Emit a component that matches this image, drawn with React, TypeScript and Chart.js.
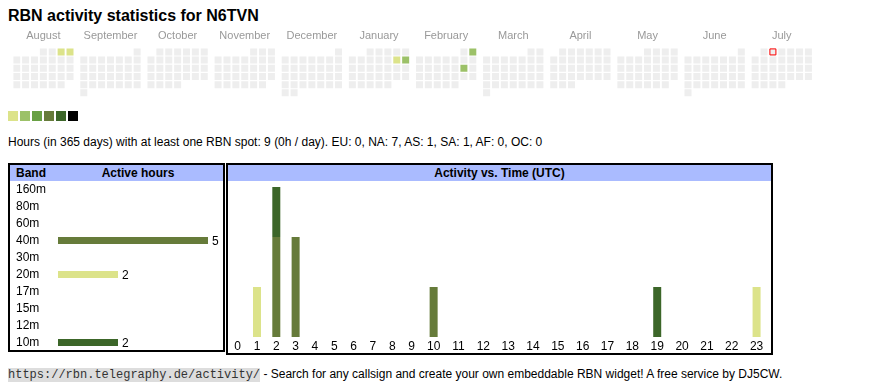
import React, { useEffect, useRef } from 'react';
import { Chart, registerables, CategoryScale } from 'chart.js';

Chart.register(...registerables);

const FONT = '"Liberation Sans", Arial, Helvetica, sans-serif';
const MONO = '"Liberation Mono", "Courier New", monospace';

// ---------- data ----------
const callsign = 'N6TVN';
const monthNames = ['August', 'September', 'October', 'November', 'December', 'January', 'February', 'March', 'April', 'May', 'June', 'July'];
const monthYears = [2024, 2024, 2024, 2024, 2024, 2025, 2025, 2025, 2025, 2025, 2025, 2025];
const monthNumbers = [8, 9, 10, 11, 12, 1, 2, 3, 4, 5, 6, 7];
const activeDays = ['2024-08-03', '2024-08-04', '2025-01-11', '2025-01-12', '2025-02-02', '2025-02-15'];
const activeDayHours = [1, 1, 1, 2, 2, 2];
const todayDate = '2025-07-02';
const levelColors = ['#dce38a', '#9cc168', '#68a044', '#667b3a', '#3c6629', '#000000'];
const emptyColor = '#eeeeee';

const bands = ['160m', '80m', '60m', '40m', '30m', '20m', '17m', '15m', '12m', '10m'];
const bandHours = [0, 0, 0, 5, 0, 2, 0, 0, 0, 2];
const bandColors = ['#000000', '#3c6629', '#68a044', '#667b3a', '#9cc168', '#dce38a', '#667b3a', '#68a044', '#9cc168', '#3c6629'];

const hourLabels = ['0', '1', '2', '3', '4', '5', '6', '7', '8', '9', '10', '11', '12', '13', '14', '15', '16', '17', '18', '19', '20', '21', '22', '23'];
const hours40m = [0, 0, 2, 2, 0, 0, 0, 0, 0, 0, 1, 0, 0, 0, 0, 0, 0, 0, 0, 0, 0, 0, 0, 0];
const hours20m = [0, 1, 0, 0, 0, 0, 0, 0, 0, 0, 0, 0, 0, 0, 0, 0, 0, 0, 0, 0, 0, 0, 0, 1];
const hours10m = [0, 0, 1, 0, 0, 0, 0, 0, 0, 0, 0, 0, 0, 0, 0, 0, 0, 0, 0, 1, 0, 0, 0, 0];

const totalHours = 9;
const continents = ['EU', 'NA', 'AS', 'SA', 'AF', 'OC'];
const continentHours = [0, 7, 1, 1, 0, 0];

// ---------- layout constants ----------
const CELL = 9;
const BLOCK = 68;

const pad2 = (n: number) => (n < 10 ? '0' + n : '' + n);

// Category scale whose columns are sized like an auto-layout HTML table (wider for longer labels)
class TableColumnScale extends CategoryScale {
  static id = 'tableColumns';
  colFraction(index: number) {
    const labels = (this as any).getLabels() as string[];
    const w = labels.map((l) => String(l).length + 2.5);
    const total = w.reduce((a, b) => a + b, 0);
    let acc = 0;
    for (let i = 0; i < index; i++) acc += w[i];
    return (acc + (w[index] || 0) / 2) / total;
  }
  getPixelForValue(value: any) {
    let v = value;
    if (typeof v !== 'number') v = (this as any).parse(v);
    if (v === null || v === undefined || isNaN(v)) return NaN;
    const idx = Math.round(v);
    const self = this as any;
    return self.left + (self.right - self.left) * this.colFraction(idx);
  }
  getPixelForTick(index: number) {
    const ticks = (this as any).ticks;
    if (index < 0 || index > ticks.length - 1) return null as any;
    return this.getPixelForValue(ticks[index].value);
  }
}
Chart.register(TableColumnScale as any);

function buildCells() {
  const cells: { x: number; y: number; color: string; iso: string }[] = [];
  monthNumbers.forEach((m, i) => {
    const yr = monthYears[i];
    const nDays = new Date(yr, m, 0).getDate();
    const first = (new Date(yr, m - 1, 1).getDay() + 6) % 7;
    for (let d = 1; d <= nDays; d++) {
      const k = first + d - 1;
      const iso = `${yr}-${pad2(m)}-${pad2(d)}`;
      const a = activeDays.indexOf(iso);
      cells.push({
        x: i * BLOCK + (k % 7) * CELL,
        y: Math.floor(k / 7) * CELL,
        color: a >= 0 ? levelColors[activeDayHours[a] - 1] : emptyColor,
        iso,
      });
    }
  });
  return cells;
}

function CalendarChart() {
  const ref = useRef<HTMLCanvasElement>(null);
  useEffect(() => {
    const cells = buildCells();
    const today = cells.filter((c) => c.iso === todayDate);
    const chart = new Chart(ref.current!, {
      type: 'scatter',
      data: {
        datasets: [
          {
            data: today.map((c) => ({ x: c.x, y: c.y })),
            pointStyle: 'rect',
            pointRadius: 4.243,
            pointHoverRadius: 4.243,
            pointBackgroundColor: emptyColor,
            pointBorderColor: '#ff0000',
            pointBorderWidth: 1,
          },
          {
            data: cells.map((c) => ({ x: c.x, y: c.y })),
            pointStyle: 'rect',
            pointRadius: 4.95,
            pointHoverRadius: 4.95,
            pointBackgroundColor: cells.map((c) => c.color),
            pointBorderWidth: 0,
          },
        ],
      },
      options: {
        animation: false,
        responsive: false,
        events: [],
        layout: { padding: 0 },
        plugins: { legend: { display: false }, tooltip: { enabled: false } },
        scales: {
          x: {
            type: 'linear',
            position: 'top',
            min: -3.5,
            max: 816.5,
            grid: { display: false, drawTicks: false },
            border: { display: false },
            ticks: {
              color: '#999999',
              font: { size: 11, family: FONT },
              padding: 3,
              autoSkip: false,
              maxRotation: 0,
              callback: (_v: any, i: number) => monthNames[i],
            },
            afterBuildTicks: (s: any) => {
              s.ticks = monthNames.map((_, i) => ({ value: i * BLOCK + 3 * CELL }));
            },
            afterFit: (s: any) => {
              s.height = 22;
            },
          },
          y: { type: 'linear', reverse: true, min: -6.5, max: 51.5, display: false },
        },
      } as any,
    });
    return () => chart.destroy();
  }, []);
  return <canvas ref={ref} width={820} height={80} style={{ position: 'absolute', left: 8, top: 24 }} />;
}

const valueLabelPlugin = {
  id: 'valueLabels',
  afterDatasetsDraw(chart: any) {
    const ctx = chart.ctx;
    const meta = chart.getDatasetMeta(0);
    ctx.save();
    ctx.fillStyle = '#000';
    ctx.font = `12px ${FONT}`;
    ctx.textBaseline = 'middle';
    ctx.textAlign = 'left';
    meta.data.forEach((bar: any, i: number) => {
      const v = chart.data.datasets[0].data[i];
      if (v > 0) ctx.fillText(String(v), bar.x + 4, bar.y + 1);
    });
    ctx.restore();
  },
};

function BandChart() {
  const ref = useRef<HTMLCanvasElement>(null);
  useEffect(() => {
    const chart = new Chart(ref.current!, {
      type: 'bar',
      data: {
        labels: bands,
        datasets: [{ data: bandHours, backgroundColor: bandColors, barThickness: 7, inflateAmount: 0, skipNull: true }],
      },
      plugins: [valueLabelPlugin],
      options: {
        animation: false,
        responsive: false,
        events: [],
        indexAxis: 'y',
        layout: { padding: 0 },
        plugins: { legend: { display: false }, tooltip: { enabled: false } },
        scales: {
          x: { type: 'linear', min: 0, max: 5.5, display: false },
          y: {
            type: 'category',
            grid: { display: false, drawTicks: false },
            border: { display: false },
            ticks: { color: '#000', font: { size: 12, family: FONT }, padding: 0, crossAlign: 'far', autoSkip: false },
            afterFit: (s: any) => {
              s.width = 42;
              s.paddingTop = 0;
              s.paddingBottom = 0;
            },
          },
        },
      } as any,
    });
    return () => chart.destroy();
  }, []);
  return <canvas ref={ref} width={207} height={170} style={{ position: 'absolute', left: 16, top: 181 }} />;
}

function HourChart() {
  const ref = useRef<HTMLCanvasElement>(null);
  useEffect(() => {
    const series = [
      { band: '40m', data: hours40m },
      { band: '20m', data: hours20m },
      { band: '10m', data: hours10m },
    ];
    const chart = new Chart(ref.current!, {
      type: 'bar',
      data: {
        labels: hourLabels,
        datasets: series.map((s) => ({
          label: s.band,
          data: s.data,
          backgroundColor: bandColors[bands.indexOf(s.band)],
          barThickness: 8,
          inflateAmount: 0,
        })),
      },
      options: {
        animation: false,
        responsive: false,
        events: [],
        layout: { padding: { top: 6, left: 0, right: 2, bottom: 0 } },
        plugins: { legend: { display: false }, tooltip: { enabled: false } },
        scales: {
          x: {
            type: 'tableColumns',
            stacked: true,
            grid: { display: false, drawTicks: false },
            border: { display: false },
            ticks: { color: '#000', font: { size: 12, family: FONT }, padding: 2, autoSkip: false, maxRotation: 0 },
            afterFit: (s: any) => {
              s.height = 16;
              s.paddingLeft = 0;
              s.paddingRight = 0;
            },
          },
          y: { type: 'linear', stacked: true, min: 0, max: 3, display: false },
        },
      } as any,
    });
    return () => chart.destroy();
  }, []);
  return <canvas ref={ref} width={543} height={172} style={{ position: 'absolute', left: 228, top: 181 }} />;
}

const abs = (left: number, top: number, extra: React.CSSProperties = {}): React.CSSProperties => ({
  position: 'absolute',
  left,
  top,
  whiteSpace: 'nowrap',
  fontFamily: FONT,
  ...extra,
});

export default function App() {
  const summary =
    `Hours (in 365 days) with at least one RBN spot: ${totalHours} (0h / day). ` +
    continents.map((c, i) => `${c}: ${continentHours[i]}`).join(', ');
  return (
    <div style={{ position: 'absolute', left: 0, top: 0, width: 870, height: 390, background: '#fff', overflow: 'hidden' }}>
      <div style={abs(8, 6, { fontSize: 16, fontWeight: 'bold', lineHeight: '20px', color: '#000' })}>
        RBN activity statistics for {callsign}
      </div>
      <CalendarChart />
      {levelColors.map((c, i) => (
        <div key={i} style={{ position: 'absolute', left: 8 + i * 12, top: 111, width: 10, height: 10, background: c }} />
      ))}
      <div style={abs(8, 134, { fontSize: 12, lineHeight: '16px', color: '#000' })}>{summary}</div>

      {/* Band table */}
      <div style={{ position: 'absolute', left: 8, top: 163, width: 217, height: 189, border: '2px solid #000', boxSizing: 'border-box' }} />
      <div style={{ position: 'absolute', left: 10, top: 165, width: 213, height: 16, background: '#aabbff' }} />
      <div style={abs(16, 165, { fontSize: 12, fontWeight: 'bold', lineHeight: '16px' })}>Band</div>
      <div style={abs(58, 165, { width: 160, textAlign: 'center', fontSize: 12, fontWeight: 'bold', lineHeight: '16px' })}>Active hours</div>
      <BandChart />

      {/* Hour table */}
      <div style={{ position: 'absolute', left: 226, top: 163, width: 547, height: 192, border: '2px solid #000', boxSizing: 'border-box' }} />
      <div style={{ position: 'absolute', left: 228, top: 165, width: 543, height: 16, background: '#aabbff' }} />
      <div style={abs(228, 165, { width: 543, textAlign: 'center', fontSize: 12, fontWeight: 'bold', lineHeight: '16px' })}>
        Activity vs. Time (UTC)
      </div>
      <HourChart />

      <div style={abs(8, 366, { fontSize: 12, lineHeight: '16px', color: '#000' })}>
        <span style={{ fontFamily: MONO, background: '#dddddd', color: '#333' }}>https://rbn.telegraphy.de/activity/</span>
        {' - Search for any callsign and create your own embeddable RBN widget! A free service by DJ5CW.'}
      </div>
    </div>
  );
}
